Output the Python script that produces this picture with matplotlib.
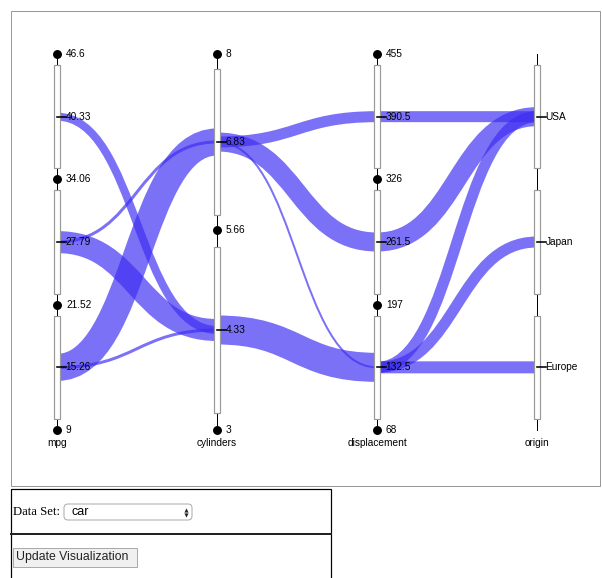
import matplotlib
matplotlib.use("Agg")
import matplotlib.pyplot as plt
from matplotlib.path import Path
from matplotlib.patches import PathPatch, Rectangle, FancyBboxPatch

# dimensiones y sus limites de bins
dims = ["mpg", "cylinders", "displacement", "origin"]
mpg_edges = [46.6, 34.06, 21.52, 9]
mpg_mids = [40.33, 27.79, 15.26]
cyl_edges = [8, 5.66, 3]
cyl_mids = [6.83, 4.33]
disp_edges = [455, 326, 197, 68]
disp_mids = [390.5, 261.5, 132.5]
origins = ["USA", "Japan", "Europe"]

# flujos entre ejes vecinos: (bin origen, bin destino, cantidad)
flow_mpg_cyl = [(40.33, 4.33, 8), (27.79, 6.83, 3), (27.79, 4.33, 22),
                (15.26, 6.83, 27), (15.26, 4.33, 3)]
flow_cyl_disp = [(6.83, 390.5, 11), (6.83, 261.5, 19), (6.83, 132.5, 2),
                 (4.33, 132.5, 29)]
flow_disp_orig = [(390.5, "USA", 11), (261.5, "USA", 19), (132.5, "USA", 11),
                  (132.5, "Japan", 11), (132.5, "Europe", 12)]

W, H = 602, 578
fig = plt.figure(figsize=(W / 100, H / 100), dpi=100)
ax = fig.add_axes([0, 0, 1, 1])
ax.set_xlim(0, W)
ax.set_ylim(H, 0)
ax.axis("off")

x0, step = 57, 160
top, bottom = 54, 430
axis_x = {d: x0 + i * step for i, d in enumerate(dims)}
px = 72 / 100  # pixel -> points
band_color = (0.24, 0.18, 0.95)
font = "Liberation Sans"
fs = 7.3


def num_scale(edges):
    hi, lo = max(edges), min(edges)
    return lambda v: top + (hi - v) / (hi - lo) * (bottom - top)


scales = {
    "mpg": num_scale(mpg_edges),
    "cylinders": num_scale(cyl_edges),
    "displacement": num_scale(disp_edges),
    "origin": lambda c: top + (origins.index(c) + 0.5) * (bottom - top) / len(origins),
}


def draw_flows(flows, d1, d2):
    xa, xb = axis_x[d1], axis_x[d2]
    xm = (xa + xb) / 2
    for a, b, n in flows:
        ya, yb = scales[d1](a), scales[d2](b)
        p = Path([(xa, ya), (xm, ya), (xm, yb), (xb, yb)],
                 [Path.MOVETO, Path.CURVE4, Path.CURVE4, Path.CURVE4])
        ax.add_patch(PathPatch(p, fc="none", ec=band_color, alpha=0.68,
                               lw=n * px, capstyle="butt", zorder=2))


draw_flows(flow_mpg_cyl, "mpg", "cylinders")
draw_flows(flow_cyl_disp, "cylinders", "displacement")
draw_flows(flow_disp_orig, "displacement", "origin")


def draw_box(x, y1, y2):
    h = y2 - y1
    pad = 0.08 * h + 1
    ax.add_patch(Rectangle((x - 3, y1 + pad), 6, h - 2 * pad, fc="white",
                           ec="#999999", lw=1.2 * px, zorder=4))


def mid_tick(x, y, label):
    ax.plot([x, x + 9], [y, y], color="black", lw=1.6 * px, zorder=5)
    ax.text(x + 8.5, y, label, fontsize=fs, family=font, va="center",
            ha="left", zorder=6)


numeric = [("mpg", mpg_edges, mpg_mids), ("cylinders", cyl_edges, cyl_mids),
           ("displacement", disp_edges, disp_mids)]
for d, edges, mids in numeric:
    x = axis_x[d]
    s = scales[d]
    ax.plot([x, x], [s(edges[0]), s(edges[-1])], color="black", lw=1 * px, zorder=3)
    for i in range(len(edges) - 1):
        draw_box(x, s(edges[i]), s(edges[i + 1]))
    for e in edges:
        ax.plot(x, s(e), "o", color="black", ms=5.4, zorder=6)
        ax.text(x + 9, s(e), f"{e:g}", fontsize=fs, family=font,
                va="center", ha="left", zorder=6)
    for m in mids:
        mid_tick(x, s(m), f"{m:g}")

xo = axis_x["origin"]
ax.plot([xo, xo], [top, bottom], color="black", lw=1 * px, zorder=3)
band_h = (bottom - top) / len(origins)
for i, c in enumerate(origins):
    draw_box(xo, top + i * band_h, top + (i + 1) * band_h)
    mid_tick(xo, scales["origin"](c), c)

for d in dims:
    ax.text(axis_x[d], 443, d, fontsize=fs, family=font, ha="center", va="center")

# marco del grafico
ax.add_patch(Rectangle((10.5, 10.5), 589, 475, fc="none", ec="#999999", lw=1 * px))

# panel de controles
ax.add_patch(Rectangle((10.5, 488.5), 320, 100, fc="none", ec="black", lw=1.2 * px))
ax.plot([10.5, 330.5], [534, 534], color="#222222", lw=2 * px)
ax.text(13, 512, "Data Set:", fontsize=9.2, family="Liberation Serif", va="center")
ax.add_patch(FancyBboxPatch((64, 504), 128, 16, boxstyle="round,pad=0,rounding_size=4",
                            fc="white", ec="#aaaaaa", lw=1 * px))
ax.text(71, 512, "car", fontsize=9, family=font, va="center")
ax.plot(186, 509.5, marker="^", color="#222222", ms=3, mew=0)
ax.plot(186, 514.5, marker="v", color="#222222", ms=3, mew=0)
ax.add_patch(Rectangle((12.5, 547.5), 124, 19, fc="#f0f0f0", ec="#aaaaaa", lw=1 * px))
ax.text(16, 557, "Update Visualization", fontsize=8.8, family=font, va="center",
        color="#222222")

fig.savefig("out.png", dpi=100)
